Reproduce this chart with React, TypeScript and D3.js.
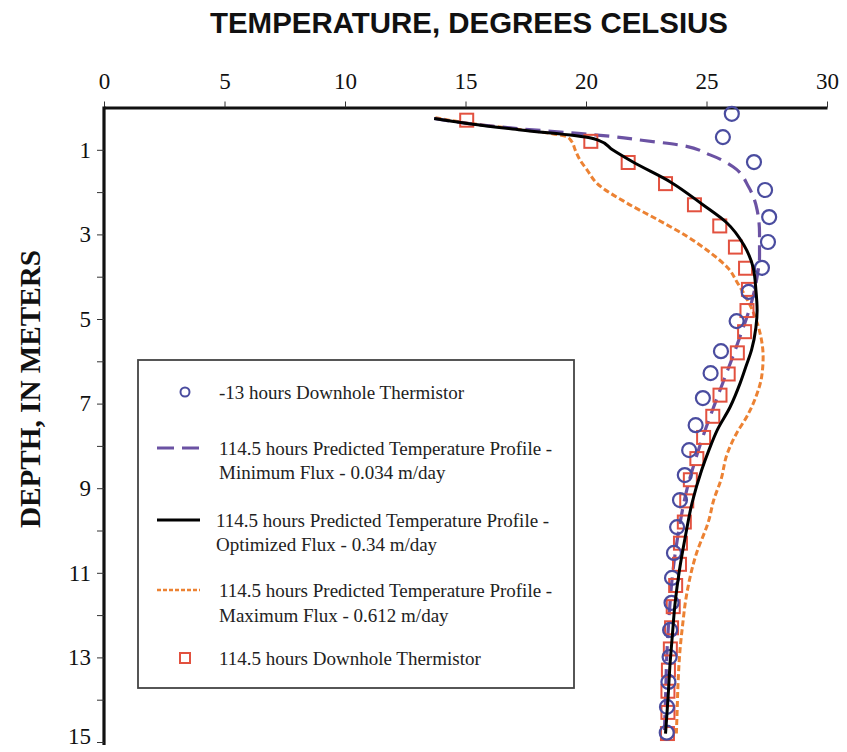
import React, { useEffect, useRef } from "react";
import * as d3 from "d3";

// ---- data ----
const xTicks = [0, 5, 10, 15, 20, 25, 30];
const yTicks = [1, 2, 3, 4, 5, 6, 7, 8, 9, 10, 11, 12, 13, 14, 15];

const circleDepth = [0.15, 0.7, 1.29, 1.95, 2.59, 3.18, 3.79, 4.36, 5.05, 5.76, 6.28, 6.87, 7.51, 8.1, 8.69, 9.28, 9.92, 10.53, 11.12, 11.71, 12.35, 12.99, 13.58, 14.17, 14.78];
const circleTemp = [26.05, 25.68, 26.97, 27.43, 27.6, 27.55, 27.3, 26.75, 26.25, 25.6, 25.17, 24.85, 24.55, 24.28, 24.1, 23.9, 23.78, 23.65, 23.57, 23.55, 23.49, 23.47, 23.42, 23.36, 23.35];

const squareDepth = [0.3, 0.8, 1.3, 1.8, 2.3, 2.8, 3.3, 3.8, 4.3, 4.8, 5.3, 5.8, 6.3, 6.8, 7.3, 7.8, 8.3, 8.8, 9.3, 9.8, 10.3, 10.8, 11.3, 11.8, 12.3, 12.8, 13.3, 13.8, 14.3, 14.8];
const squareTemp = [15.05, 20.2, 21.75, 23.3, 24.5, 25.55, 26.2, 26.62, 26.74, 26.68, 26.58, 26.28, 25.9, 25.56, 25.26, 24.88, 24.6, 24.33, 24.18, 24.08, 23.92, 23.88, 23.72, 23.62, 23.55, 23.5, 23.42, 23.4, 23.4, 23.38];

const minFluxDepth = [0.26, 0.37, 0.5, 0.6, 0.68, 0.78, 0.88, 1.12, 1.4, 1.88, 2.42, 2.97, 3.53, 4.0, 4.6, 5.0, 5.4, 5.8, 6.4, 7.0, 7.7, 8.4, 9.0, 10.0, 11.0, 12.0, 13.0, 14.0, 14.8];
const minFluxTemp = [13.7, 15.0, 17.2, 19.4, 21.0, 22.4, 23.8, 25.15, 26.1, 26.75, 27.1, 27.2, 27.2, 27.1, 26.87, 26.65, 26.4, 26.15, 25.75, 25.35, 24.9, 24.5, 24.2, 23.85, 23.6, 23.45, 23.35, 23.3, 23.25];

const optFluxDepth = [0.26, 0.37, 0.53, 0.72, 0.77, 1.0, 1.29, 1.76, 2.3, 2.73, 3.25, 3.77, 4.31, 4.8, 5.2, 5.73, 6.1, 6.51, 7.08, 7.62, 8.1, 8.57, 9.35, 10.15, 10.93, 11.7, 12.5, 13.13, 14.0, 14.8];
const optFluxTemp = [13.7, 15.0, 17.3, 20.2, 20.5, 21.1, 21.95, 23.5, 24.85, 25.85, 26.55, 26.93, 27.05, 27.1, 27.05, 26.87, 26.65, 26.4, 25.98, 25.45, 25.1, 24.8, 24.4, 24.12, 23.88, 23.7, 23.58, 23.49, 23.4, 23.3];

const maxFluxDepth = [0.24, 0.37, 0.5, 0.62, 0.69, 0.8, 1.0, 1.24, 1.48, 1.79, 2.26, 2.66, 3.05, 3.45, 3.8, 4.16, 4.55, 5.0, 5.33, 5.89, 6.36, 6.84, 7.31, 7.7, 8.2, 8.8, 9.28, 9.75, 10.6, 11.6, 12.28, 12.83, 13.6, 14.3, 14.8];
const maxFluxTemp = [13.75, 15.1, 17.0, 18.6, 19.2, 19.4, 19.55, 19.75, 20.05, 20.45, 21.7, 23.0, 24.2, 25.2, 25.9, 26.3, 26.7, 27.05, 27.22, 27.35, 27.29, 27.05, 26.67, 26.25, 25.85, 25.6, 25.3, 25.1, 24.55, 24.15, 24.0, 23.9, 23.82, 23.78, 23.75];

const legendLabels = [
  ["-13 hours Downhole Thermistor"],
  ["114.5 hours Predicted Temperature Profile -", "Minimum Flux - 0.034 m/day"],
  ["114.5 hours Predicted Temperature Profile -", "Optimized Flux - 0.34 m/day"],
  ["114.5 hours Predicted Temperature Profile -", "Maximum Flux - 0.612 m/day"],
  ["114.5 hours Downhole Thermistor"],
];

const CIRCLE = "#4a4c9f";
const SQUARE = "#e2513f";
const PURPLE = "#6b52a3";
const ORANGE = "#ec8233";
const SERIF = "'Liberation Serif', 'Times New Roman', serif";
const SANS = "'Liberation Sans', Arial, sans-serif";

export default function App() {
  const topRef = useRef<SVGGElement>(null);
  const leftRef = useRef<SVGGElement>(null);

  const x = d3.scaleLinear().domain([0, 30]).range([104, 827]);
  const y = d3.scaleLinear().domain([0, 15]).range([107.5, 742]);

  useEffect(() => {
    if (topRef.current) {
      const g = d3.select(topRef.current);
      g.selectAll("*").remove();
      g.call(d3.axisTop(x).tickValues(xTicks).tickSize(6).tickPadding(13).tickSizeOuter(0).tickFormat(d3.format("d")) as any);
      g.select(".domain").attr("stroke-width", 3.2).attr("stroke", "#111");
      g.selectAll(".tick line").attr("stroke", "#333").attr("stroke-width", 1);
      g.selectAll(".tick text").attr("font-family", SERIF).attr("font-size", 23).attr("fill", "#111");
    }
    if (leftRef.current) {
      const g = d3.select(leftRef.current);
      g.selectAll("*").remove();
      g.call(
        d3.axisLeft(y).tickValues(yTicks).tickSize(7).tickPadding(6).tickSizeOuter(0)
          .tickFormat((d: any) => (d % 2 === 1 ? String(d) : "")) as any
      );
      g.select(".domain").attr("stroke-width", 3.2).attr("stroke", "#111").attr("d", `M0,${y(0) - 1}V${y(15) + 3}`);
      g.selectAll(".tick line").attr("stroke", "#333").attr("stroke-width", 1);
      g.selectAll(".tick text").attr("font-family", SERIF).attr("font-size", 23).attr("fill", "#111");
      g.selectAll<SVGTextElement, number>(".tick text").filter((d) => d === 15).attr("dy", "0.05em");
    }
  }, []);

  const line = (depths: number[], temps: number[]) =>
    d3.line<number>().x((_, i) => x(temps[i])).y((d) => y(d)).curve(d3.curveMonotoneY)(depths) || "";

  const lx0 = 157, lx1 = 200, mx = 185;
  const textX = 219;

  return (
    <svg width={847} height={752} style={{ position: "absolute", left: 0, top: 0, background: "#fff" }}>
      <text x={469} y={33} textAnchor="middle" fontFamily={SANS} fontWeight="bold" fontSize={30} textLength={518} lengthAdjust="spacingAndGlyphs" fill="#111">
        TEMPERATURE, DEGREES CELSIUS
      </text>
      <text transform="translate(40,389) rotate(-90)" textAnchor="middle" fontFamily={SERIF} fontWeight="bold" fontSize={29} textLength={278} lengthAdjust="spacingAndGlyphs" fill="#111">
        DEPTH, IN METERS
      </text>

      <g ref={topRef} transform={`translate(0,${y(0)})`} />
      <g ref={leftRef} transform={`translate(${x(0)},0)`} />

      {/* lines */}
      <path d={line(maxFluxDepth, maxFluxTemp)} fill="none" stroke={ORANGE} strokeWidth={3} strokeDasharray="6,3" />
      <path d={line(minFluxDepth, minFluxTemp)} fill="none" stroke={PURPLE} strokeWidth={3.2} strokeDasharray="15,8" />

      {/* markers */}
      {squareDepth.map((d, i) => (
        <rect key={"s" + i} x={x(squareTemp[i]) - 6.5} y={y(d) - 6.5} width={13} height={13} fill="none" stroke={SQUARE} strokeWidth={2} />
      ))}
      {circleDepth.map((d, i) => (
        <circle key={"c" + i} cx={x(circleTemp[i])} cy={y(d)} r={7} fill="none" stroke={CIRCLE} strokeWidth={2.2} />
      ))}

      <path d={line(optFluxDepth, optFluxTemp)} fill="none" stroke="#000" strokeWidth={3} />

      {/* legend */}
      <rect x={138} y={360} width={436} height={328} fill="#fff" stroke="#444" strokeWidth={1.8} />
      <circle cx={mx} cy={392} r={4.5} fill="none" stroke={CIRCLE} strokeWidth={2} />
      <line x1={lx0} x2={lx1} y1={448} y2={448} stroke={PURPLE} strokeWidth={3} strokeDasharray="17,8" />
      <line x1={lx0} x2={lx1} y1={520} y2={520} stroke="#000" strokeWidth={3} />
      <line x1={lx0} x2={lx1} y1={590} y2={590} stroke={ORANGE} strokeWidth={2.4} strokeDasharray="4,2" />
      <rect x={mx - 5} y={653} width={10} height={10} fill="none" stroke={SQUARE} strokeWidth={2} />
      {[
        [392],
        [448, 472],
        [520, 544],
        [590, 615],
        [658],
      ].map((ys, i) =>
        ys.map((yy, j) => (
          <text key={`l${i}-${j}`} x={i === 2 ? 216 : textX} y={yy} dy="0.35em" fontFamily={SERIF} fontSize={19} fill="#222">
            {legendLabels[i][j]}
          </text>
        ))
      )}
    </svg>
  );
}
